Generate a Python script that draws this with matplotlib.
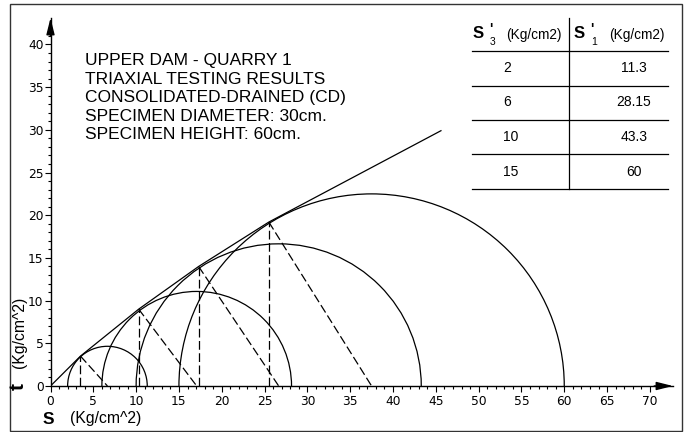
import matplotlib

matplotlib.use("Agg")
import matplotlib.pyplot as plt
import numpy as np
from matplotlib.lines import Line2D
from matplotlib.patches import Arc, Rectangle
from matplotlib.ticker import FixedLocator

plt.rcParams['font.family'] = ['Liberation Sans', 'DejaVu Sans']

# ---------- data ----------
sigma3 = [2, 6, 10, 15]                       # S'3 (Kg/cm2)
sigma1 = [11.3, 28.15, 43.3, 60]              # S'1 (Kg/cm2)
sigma3_labels = ["2", "6", "10", "15"]
sigma1_labels = ["11.3", "28.15", "43.3", "60"]

# failure envelope (polyline through the tangent points)
env_s = [0, 3.5, 10.3, 17.3, 25.5, 45.6]
env_t = [0, 3.5, 9.0, 14.0, 19.2, 29.9]

title_lines = [
    "UPPER DAM - QUARRY 1",
    "TRIAXIAL TESTING RESULTS",
    "CONSOLIDATED-DRAINED (CD)",
    "SPECIMEN DIAMETER: 30cm.",
    "SPECIMEN HEIGHT: 60cm.",
]

W, H = 684, 432


def fx(x):
    return x / W


def fy(y):
    return 1 - y / H


fig = plt.figure(figsize=(W / 100, H / 100), dpi=100)

# outer frame
fig.add_artist(Rectangle((fx(10), fy(431)), (682 - 10) / W, (431 - 4) / H,
                         transform=fig.transFigure, fill=False,
                         edgecolor='#333333', lw=1.0))

# ---------- axes ----------
ax = fig.add_axes([fx(50.5), fy(386), 622.5 / W, 368 / H])
ax.set_xlim(0, 72.7)
ax.set_ylim(0, 43.1)
ax.patch.set_visible(False)
for side in ('top', 'right'):
    ax.spines[side].set_visible(False)
for side in ('left', 'bottom'):
    ax.spines[side].set_linewidth(1.0)

ax.xaxis.set_major_locator(FixedLocator(np.arange(0, 71, 5)))
ax.xaxis.set_minor_locator(FixedLocator(np.arange(0, 71, 1)))
ax.yaxis.set_major_locator(FixedLocator(np.arange(0, 41, 5)))
ax.yaxis.set_minor_locator(FixedLocator(np.arange(0, 42, 1)))
ax.tick_params(which='major', length=4, width=0.8, labelsize=8.8, pad=2.5)
ax.tick_params(which='minor', length=2.5, width=0.8)
ax.tick_params(axis='y', which='major', pad=1)
for lab in ax.get_xticklabels() + ax.get_yticklabels():
    lab.set_family('DejaVu Sans')

arrow = dict(arrowstyle='-|>,head_length=1.0,head_width=0.25', color='k',
             lw=1.0, shrinkA=0, shrinkB=0)
ax.annotate('', xy=(72.7, 0), xytext=(70.5, 0), arrowprops=arrow,
            annotation_clip=False)
ax.annotate('', xy=(0, 43.1), xytext=(0, 41.0), arrowprops=arrow,
            annotation_clip=False)

# Mohr circles
for s3, s1 in zip(sigma3, sigma1):
    c = (s3 + s1) / 2
    d = s1 - s3
    ax.add_patch(Arc((c, 0), d, d, theta1=0, theta2=180, color='k', lw=0.9))

# envelope
ax.plot(env_s, env_t, color='k', lw=0.9)

# dashed construction lines: vertical + radius to each centre
dash = (0, (7, 2.8))
for s, t, s3, s1 in zip(env_s[1:5], env_t[1:5], sigma3, sigma1):
    c = (s3 + s1) / 2
    ax.plot([s, s], [0, t], color='k', lw=0.9, linestyle=dash)
    ax.plot([s, c], [t, 0], color='k', lw=0.9, linestyle=dash)

# axis labels
fig.text(fx(48), fy(419), "S", fontsize=12.5, fontweight='bold',
         ha='center', va='center')
fig.text(fx(70), fy(418), "(Kg/cm^2)", fontsize=11.3, ha='left', va='center')
fig.text(fx(18), fy(386), "t", fontsize=15, fontweight='bold', rotation=90,
         ha='center', va='center')
fig.text(fx(20), fy(332), "(Kg/cm^2)", fontsize=11.3, rotation=90,
         ha='center', va='center')

# title block
for i, line in enumerate(title_lines):
    fig.text(fx(85), fy(61 + 18.4 * i), line, fontsize=12.5, ha='left',
             va='center')

# ---------- table ----------
tbl_lw = 0.9
fig.add_artist(Line2D([fx(569), fx(569)], [fy(18), fy(189)], color='k',
                      lw=tbl_lw))
for y in [51, 86, 120, 154, 189]:
    fig.add_artist(Line2D([fx(472), fx(668)], [fy(y), fy(y)], color='k',
                          lw=tbl_lw))

for x0, sub in [(478, "3"), (579, "1")]:
    fig.text(fx(x0), fy(34), "S", fontsize=12, fontweight='bold',
             ha='center', va='center')
    fig.text(fx(x0 + 13), fy(29), "'", fontsize=10, fontweight='bold',
             ha='center', va='center')
    fig.text(fx(x0 + 15), fy(42), sub, fontsize=7.5, ha='center',
             va='center')
fig.text(fx(506), fy(35), "(Kg/cm2)", fontsize=9.8, ha='left', va='center')
fig.text(fx(609), fy(35), "(Kg/cm2)", fontsize=9.8, ha='left', va='center')

row_y = [68, 102, 137, 172]
for y, a, b in zip(row_y, sigma3_labels, sigma1_labels):
    fig.text(fx(503), fy(y), a, fontsize=10, ha='left', va='center')
    fig.text(fx(634), fy(y), b, fontsize=10, ha='center', va='center')

fig.savefig("out.png", dpi=100, facecolor='white')
